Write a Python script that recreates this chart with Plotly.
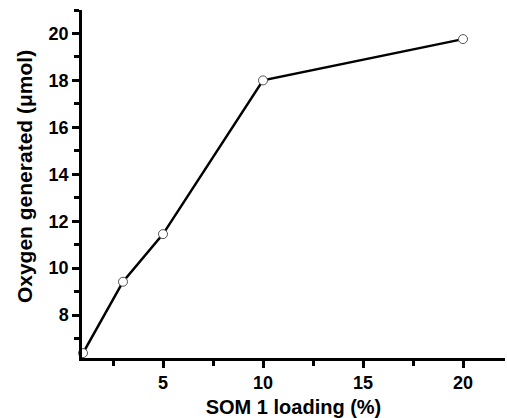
import plotly.graph_objects as go

loading_pct = [1, 3, 5, 10, 20]
oxygen_umol = [6.38, 9.42, 11.45, 18.0, 19.76]

font_family = "Liberation Sans, Arial, sans-serif"

fig = go.Figure()
fig.add_trace(go.Scatter(
    x=loading_pct, y=oxygen_umol,
    mode="lines+markers",
    line=dict(color="black", width=2.5),
    marker=dict(symbol="circle", size=9, color="white",
                line=dict(color="#555555", width=1)),
    cliponaxis=False,
    showlegend=False,
))

axis_common = dict(
    showline=True, linecolor="black", linewidth=2.5,
    ticks="outside", ticklen=7, tickwidth=2.5, tickcolor="black",
    showgrid=False, zeroline=False, mirror=False,
    tickfont=dict(family=font_family, size=18, color="black", weight="bold"),
)

fig.update_xaxes(
    range=[0.95, 22.1], tickmode="array", tickvals=[5, 10, 15, 20],
    minor=dict(tickvals=[2.5, 7.5, 12.5, 17.5], ticks="outside", ticklen=5,
               tickwidth=2.5, tickcolor="black"),
    title=dict(text="SOM 1 loading (%)", standoff=10,
               font=dict(family=font_family, size=20, color="black", weight="bold")),
    **axis_common,
)
fig.update_yaxes(
    range=[6.17, 21.0], tickmode="array", tickvals=[8, 10, 12, 14, 16, 18, 20],
    minor=dict(tickvals=[7, 9, 11, 13, 15, 17, 19, 21], ticks="outside", ticklen=5,
               tickwidth=2.5, tickcolor="black"),
    **axis_common,
)

# y-axis title placed as a rotated annotation
fig.add_annotation(
    text="Oxygen generated (\u03bcmol)",
    xref="paper", yref="paper", x=-0.137, y=0.52,
    xanchor="center", yanchor="middle", textangle=-90, showarrow=False,
    font=dict(family=font_family, size=21, color="black", weight="bold"),
)

fig.update_layout(
    width=507, height=418,
    margin=dict(l=82, r=2, t=10, b=60),
    plot_bgcolor="white", paper_bgcolor="white",
)

fig.write_html("out.html")
